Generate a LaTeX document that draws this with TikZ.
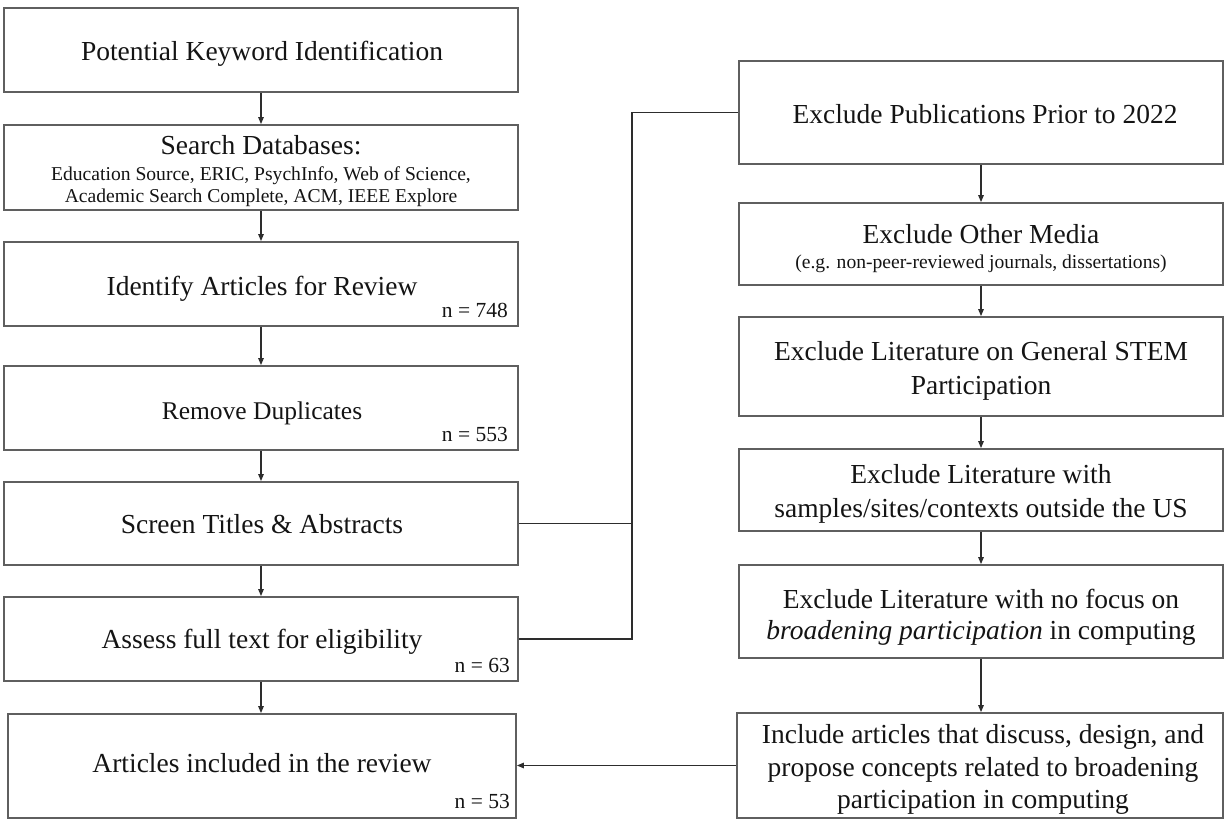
\documentclass[tikz,border=0pt]{standalone}
\usepackage{fontspec}
\setmainfont{Liberation Serif}
\usetikzlibrary{arrows.meta}
\definecolor{boxgray}{RGB}{95,95,95}
\definecolor{linegray}{RGB}{45,45,45}
\definecolor{txt}{RGB}{20,20,20}
\begin{document}
\begin{tikzpicture}[x=1pt,y=-1pt,
  box/.style={draw=boxgray, line width=1.8pt, rectangle, inner sep=0pt},
  lbl/.style={anchor=base, inner sep=0pt, text=txt, font=\fontsize{27.5}{33}\selectfont},
  sml/.style={anchor=base, inner sep=0pt, text=txt, font=\fontsize{19.6}{23}\selectfont},
  cnt/.style={anchor=base east, inner sep=0pt, text=txt, font=\fontsize{21.5}{25}\selectfont},
  arr/.style={draw=linegray, line width=1.3pt, -{Triangle[length=7pt,width=5.5pt]}},
  con/.style={draw=linegray, line width=1.6pt}]
\useasboundingbox (0,0) rectangle (1225,819);
% left column boxes
\node[box, minimum width=514pt, minimum height=84pt] (L1) at (261,50) {};
\node[box, minimum width=514pt, minimum height=85pt] (L2) at (261,167.5) {};
\node[box, minimum width=514pt, minimum height=84pt] (L3) at (261,284) {};
\node[box, minimum width=514pt, minimum height=84pt] (L4) at (261,408) {};
\node[box, minimum width=514pt, minimum height=83pt] (L5) at (261,523.5) {};
\node[box, minimum width=514pt, minimum height=84pt] (L6) at (261,639) {};
\node[box, minimum width=508pt, minimum height=104pt] (L7) at (262,766) {};
% right column boxes
\node[box, minimum width=484pt, minimum height=103pt] (R1) at (981,112.5) {};
\node[box, minimum width=484pt, minimum height=82pt] (R2) at (981,244) {};
\node[box, minimum width=484pt, minimum height=99pt] (R3) at (981,366.5) {};
\node[box, minimum width=484pt, minimum height=82pt] (R4) at (981,490) {};
\node[box, minimum width=484pt, minimum height=93pt] (R5) at (981,611.5) {};
\node[box, minimum width=486pt, minimum height=105pt] (R6) at (980,765.5) {};
% left texts
\node[lbl] (tL1) at (262,60) {Potential Keyword Identification};
\node[lbl] (tL2a) at (261,154) {Search Databases:};
\node[sml] (tL2b) at (261,180) {Education Source, ERIC, PsychInfo, Web of Science,};
\node[sml] (tL2c) at (261,202) {Academic Search Complete, ACM, IEEE Explore};
\node[lbl] (tL3) at (262,295) {Identify Articles for Review};
\node[cnt] (nL3) at (508,317) {n = 748};
\node[lbl, font=\fontsize{25.5}{30}\selectfont] (tL4) at (262,419) {Remove Duplicates};
\node[cnt] (nL4) at (508,441) {n = 553};
\node[lbl] (tL5) at (262,533) {Screen Titles \& Abstracts};
\node[cnt] (nL5) at (510,672) {n = 63};
\node[lbl] (tL6) at (262,648) {Assess full text for eligibility};
\node[lbl] (tL7) at (262,772) {Articles included in the review};
\node[cnt] (nL7) at (510,808) {n = 53};
% right texts
\node[lbl] (tR1) at (985,123) {Exclude Publications Prior to 2022};
\node[lbl] (tR2a) at (981,243) {Exclude Other Media};
\node[sml] (tR2b) at (981,268) {(e.g. non-peer-reviewed journals, dissertations)};
\node[lbl] (tR3a) at (981,360) {Exclude Literature on General STEM};
\node[lbl] (tR3b) at (981,394) {Participation};
\node[lbl] (tR4a) at (981,483) {Exclude Literature with};
\node[lbl] (tR4b) at (981,517) {samples/sites/contexts outside the US};
\node[lbl] (tR5a) at (981,608) {Exclude Literature with no focus on};
\node[lbl] (tR5b) at (981,639) {\textit{broadening participation} in computing};
\node[lbl] (tR6a) at (983,743) {Include articles that discuss, design, and};
\node[lbl] (tR6b) at (983,776) {propose concepts related to broadening};
\node[lbl] (tR6c) at (983,808) {participation in computing};
% left arrows
\draw[arr] (L1) -- (L2);
\draw[arr] (L2) -- (L3);
\draw[arr] (L3) -- (L4);
\draw[arr] (L4) -- (L5);
\draw[arr] (L5) -- (L6);
\draw[arr] (L6.south) -- (L6.south |- L7.north);
% right arrows
\draw[arr] (R1) -- (R2);
\draw[arr] (R2) -- (R3);
\draw[arr] (R3) -- (R4);
\draw[arr] (R4) -- (R5);
\draw[arr] (R5.south) -- (R5.south |- R6.north);
% cross connectors
\coordinate (bus) at (632,112.5);
\draw[con] (L5.east) -| (bus) -- (R1.west);
\draw[con] (L6.east) -| (bus);
\draw[arr] (R6.west) -- (L7.east |- R6.west);
\end{tikzpicture}
\end{document}
